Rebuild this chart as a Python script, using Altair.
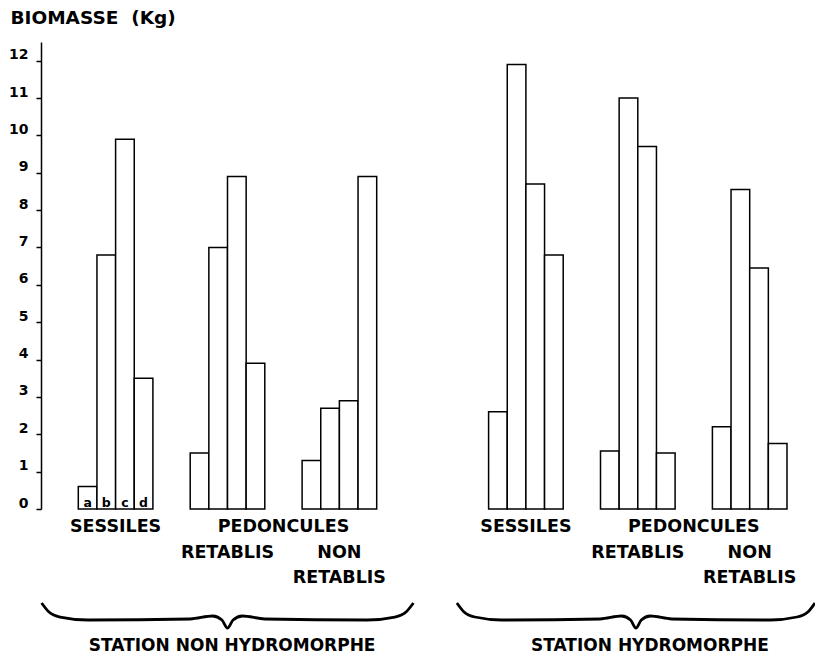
import altair as alt
import pandas as pd

# ---------------- data ----------------
letters = ["a", "b", "c", "d"]
group_names = [
    "Sessiles (non hydromorphe)",
    "Pédonculés rétablis (non hydromorphe)",
    "Pédonculés non rétablis (non hydromorphe)",
    "Sessiles (hydromorphe)",
    "Pédonculés rétablis (hydromorphe)",
    "Pédonculés non rétablis (hydromorphe)",
]
sessiles_nh = [0.6, 6.8, 9.9, 3.5]
ped_ret_nh = [1.5, 7.0, 8.9, 3.9]
ped_nonret_nh = [1.3, 2.7, 2.9, 8.9]
sessiles_h = [2.6, 11.9, 8.7, 6.8]
ped_ret_h = [1.55, 11.0, 9.7, 1.5]
ped_nonret_h = [2.2, 8.55, 6.45, 1.75]
series = [sessiles_nh, ped_ret_nh, ped_nonret_nh, sessiles_h, ped_ret_h, ped_nonret_h]

y_ticks = list(range(13))
y_title = "BIOMASSE\u00a0 (Kg)"

label_row1 = ["SESSILES", "PEDONCULES", "SESSILES", "PEDONCULES"]
label_row2 = ["RETABLIS", "NON", "RETABLIS", "NON"]
label_row3 = ["RETABLIS", "RETABLIS"]
station_labels = ["STATION NON HYDROMORPHE", "STATION HYDROMORPHE"]

# ---------------- layout constants ----------------
GROUP_START = [2, 8, 14, 24, 30, 36]      # slot where each group of 4 bars starts
X_DOMAIN = [0, 40]
Y_DOMAIN = [0, 12.5]
ROW_Y = [-0.48, -1.18, -1.85]
STATION_Y = -3.80
BRACE_CENTER = [10.0, 31.9]
BRACE_HALF = [9.97, 9.6]
BRACE_U = [-1, -0.96, -0.9, -0.75, -0.2, -0.08, -0.03, 0]
BRACE_V = [-2.516, -2.757, -2.891, -2.971, -2.944, -2.864, -2.971, -3.185]
FONT = "DejaVu Sans"

# ---------------- tables ----------------
bar_rows = []
for g, vals in enumerate(series):
    for i, v in enumerate(vals):
        bar_rows.append({"group": group_names[g], "letter": letters[i],
                         "x": GROUP_START[g] + i, "x2": GROUP_START[g] + i + 1,
                         "value": v})
bars_df = pd.DataFrame(bar_rows)

letters_df = pd.DataFrame({"letter": letters,
                           "x": [GROUP_START[0] + i + 0.5 for i in range(4)],
                           "y": [0] * 4})

def center(g):
    return GROUP_START[g] + 2

lab_rows = []
row1_x = [center(0), (center(1) + center(2)) / 2, center(3), (center(4) + center(5)) / 2]
row2_x = [center(1), center(2), center(4), center(5)]
row3_x = [center(2), center(5)]
for t, x in zip(label_row1, row1_x):
    lab_rows.append({"text": t, "x": x, "y": ROW_Y[0]})
for t, x in zip(label_row2, row2_x):
    lab_rows.append({"text": t, "x": x, "y": ROW_Y[1]})
for t, x in zip(label_row3, row3_x):
    lab_rows.append({"text": t, "x": x, "y": ROW_Y[2]})
labels_df = pd.DataFrame(lab_rows)

station_df = pd.DataFrame({"text": station_labels,
                           "x": [BRACE_CENTER[0] + 0.25, BRACE_CENTER[1] + 0.75],
                           "y": [STATION_Y, STATION_Y]})

brace_rows = []
for s in range(2):
    us = BRACE_U + [-u for u in reversed(BRACE_U[:-1])]
    vs = BRACE_V + list(reversed(BRACE_V[:-1]))
    for k, (u, v) in enumerate(zip(us, vs)):
        brace_rows.append({"station": station_labels[s], "k": k,
                           "x": BRACE_CENTER[s] + u * BRACE_HALF[s], "y": v})
brace_df = pd.DataFrame(brace_rows)

# ---------------- chart ----------------
xs = alt.Scale(domain=X_DOMAIN, nice=False, zero=False)
ys = alt.Scale(domain=Y_DOMAIN, nice=False)

y_axis = alt.Axis(values=y_ticks, grid=False, domainColor="black", domainWidth=1.5,
                  tickColor="black", tickWidth=1.5, tickSize=5,
                  labelFont=FONT, labelFontWeight="bold", labelFontSize=14,
                  labelColor="black", labelPadding=8, labelOffset=-6,
                  title=y_title, titleAngle=0, titleAlign="left",
                  titleBaseline="middle", titleX=-31, titleY=-25,
                  titleFont=FONT, titleFontSize=18.5, titleFontWeight="bold",
                  titleColor="black")

def X():
    return alt.X("x:Q", scale=xs, axis=None)

def Y(field):
    return alt.Y(field, scale=ys, axis=y_axis)

bars = alt.Chart(bars_df).mark_rect(fill="white", stroke="black", strokeWidth=1.5).encode(
    x=X(),
    x2="x2:Q",
    y=Y("value:Q"),
    y2=alt.datum(0),
)

letter_txt = alt.Chart(letters_df).mark_text(
    font=FONT, fontWeight="bold", fontSize=12.5, color="black",
    baseline="alphabetic", dy=-2).encode(
    x=X(), y=Y("y:Q"), text="letter:N",
)

group_txt = alt.Chart(labels_df).mark_text(
    font=FONT, fontWeight="bold", fontSize=17.5, color="black",
    baseline="middle").encode(
    x=X(), y=Y("y:Q"), text="text:N",
)

station_txt = alt.Chart(station_df).mark_text(
    font=FONT, fontWeight="bold", fontSize=17, color="black",
    baseline="alphabetic").encode(
    x=X(), y=Y("y:Q"), text="text:N",
)

braces = alt.Chart(brace_df).mark_line(color="black", strokeWidth=2.8,
                                       interpolate="monotone").encode(
    x=X(), y=Y("y:Q"),
    detail="station:N",
    order="k:Q",
)

chart = alt.layer(bars, letter_txt, group_txt, station_txt, braces).properties(
    width=746, height=467,
    autosize=alt.AutoSizeParams(type="none"),
    padding={"left": 33, "top": 34, "right": 28, "bottom": 146},
    background="white",
).configure_view(strokeWidth=0)

chart.save("out.html", embed_options={"renderer": "svg", "actions": False})
